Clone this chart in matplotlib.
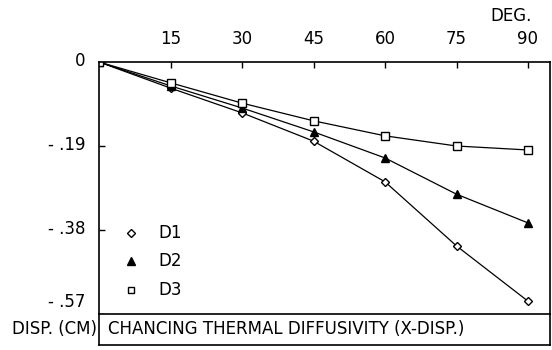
import matplotlib
matplotlib.use("Agg")
import matplotlib.pyplot as plt
from matplotlib.transforms import ScaledTranslation

plt.rcParams['font.family'] = ['Liberation Sans Narrow', 'DejaVu Sans']

angles = [0, 15, 30, 45, 60, 75, 90]
d1 = [0, -0.059, -0.115, -0.179, -0.271, -0.416, -0.541]
d2 = [0, -0.054, -0.104, -0.158, -0.217, -0.299, -0.364]
d3 = [0, -0.047, -0.093, -0.133, -0.167, -0.190, -0.199]
xticks = [15, 30, 45, 60, 75, 90]
yticks = [0, -0.19, -0.38, -0.57]
ylabels = ["0", "- .19", "- .38", "- .57"]

W, H = 552, 350
fig = plt.figure(figsize=(W / 100, H / 100), dpi=100)

# main plot box (pixel coords converted to figure fractions)
left, right, top, bottom = 99, 550, 62, 314
ax = fig.add_axes([left / W, 1 - bottom / H, (right - left) / W, (bottom - top) / H])
ax.set_xlim(0, 15 * (right - left) / 71.5)
ax.set_ylim(-0.57, 0)

ax.plot(angles, d1, color='black', lw=0.9, marker='D', ms=4.5, mfc='white', mec='black', mew=1)
ax.plot(angles, d2, color='black', lw=0.9, marker='^', ms=5.5, mfc='black', mec='black')
ax.plot(angles, d3, color='black', lw=0.9, marker='s', ms=6, mfc='white', mec='black', mew=1)

ax.xaxis.tick_top()
ax.set_xticks(xticks)
ax.set_xticklabels([str(t) for t in xticks])
ax.set_yticks(yticks)
ax.set_yticklabels(ylabels)
ax.tick_params(axis='both', direction='in', length=4, width=1, labelsize=12)
ax.tick_params(axis='x', pad=10)
ax.tick_params(axis='y', pad=10)
# y labels sit a little above their ticks, the last one clearly above
for lab in ax.get_yticklabels():
    lab.set_transform(lab.get_transform() + ScaledTranslation(0, 3 / 100, fig.dpi_scale_trans))
ax.get_yticklabels()[-1].set_va('bottom')
for s in ax.spines.values():
    s.set_linewidth(1.2)
ax.spines['bottom'].set_linewidth(0.8)

# legend drawn by hand as markers + text
leg_y = [-0.386, -0.45, -0.516]
leg_marks = [dict(marker='D', ms=4.5, mfc='white', mew=1),
             dict(marker='^', ms=5.5, mfc='black'),
             dict(marker='s', ms=5, mfc='white', mew=1)]
for yy, lab, mk in zip(leg_y, ["D1", "D2", "D3"], leg_marks):
    ax.plot([6.7], [yy], ls='none', mec='black', color='black', clip_on=False, **mk)
    ax.text(12.5, yy, lab, fontsize=12, va='center', ha='left')

fig.text(511 / W, 1 - 16 / H, "DEG.", fontsize=12, ha='center', va='center')

# caption box under the plot
cap = fig.add_axes([left / W, 1 - 345 / H, (right - left) / W, (345 - bottom) / H])
cap.set_xticks([])
cap.set_yticks([])
for s in cap.spines.values():
    s.set_linewidth(1.2)
cap.text(0.02, 0.5, "CHANCING THERMAL DIFFUSIVITY (X-DISP.)", fontsize=12,
         ha='left', va='center', transform=cap.transAxes)
fig.text(97 / W, 1 - 329 / H, "DISP. (CM)", fontsize=12, ha='right', va='center')

fig.savefig("out.png", dpi=100)
